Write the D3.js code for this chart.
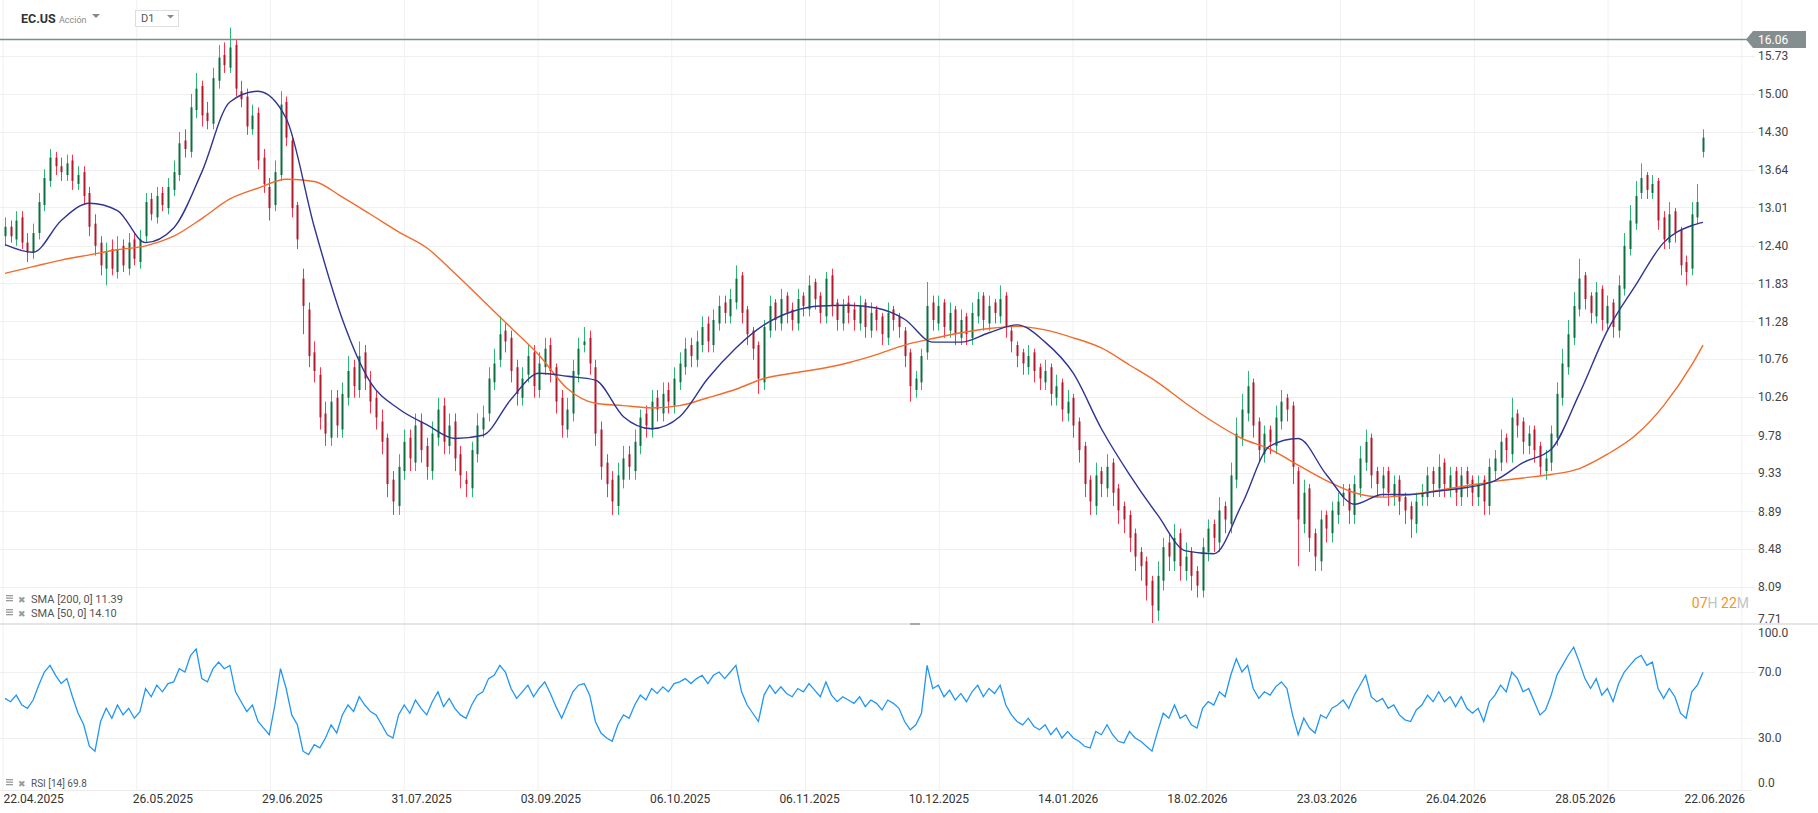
<!DOCTYPE html>
<html><head><meta charset="utf-8">
<script src="https://cdn.jsdelivr.net/npm/d3@7"></script>
<style>
html,body{margin:0;padding:0;background:#fff;}
svg{display:block;font-family:Roboto,"Noto Sans",sans-serif;}
</style></head><body>
<svg id="chart" width="1818" height="813"></svg>
<script>
const opens=[12.55,12.70,12.50,12.85,12.45,12.30,12.60,13.05,13.45,13.85,
13.70,13.55,13.80,13.40,13.60,13.25,12.75,12.45,12.05,12.35,
12.00,12.40,12.05,12.50,12.15,12.55,13.15,12.85,13.25,13.00,
13.30,13.55,14.15,13.95,14.70,15.15,14.65,14.45,15.25,15.75,
15.50,15.95,15.05,14.95,14.35,14.65,13.85,13.35,13.05,13.55,
14.85,14.15,13.05,11.90,11.45,10.85,10.55,10.05,9.75,10.25,
9.85,10.25,10.65,10.35,10.85,10.45,10.25,9.95,9.75,9.25,
8.95,9.35,9.75,9.45,9.95,9.65,9.35,9.75,10.15,9.65,
9.95,9.55,9.25,9.15,9.55,9.85,10.05,10.45,10.75,11.15,
11.05,10.65,10.25,10.55,10.85,10.35,10.65,10.95,10.65,10.25,
9.85,10.05,10.55,10.95,11.05,10.65,9.85,9.45,9.25,8.95,
9.25,9.55,9.35,9.65,10.05,9.85,10.25,10.05,10.35,10.15,
10.45,10.65,10.95,10.75,10.95,11.25,10.95,11.25,11.55,11.35,
11.55,11.95,11.45,11.15,10.95,10.45,11.15,11.55,11.25,11.65,
11.45,11.25,11.65,11.45,11.85,11.65,11.35,11.95,11.55,11.25,
11.55,11.45,11.25,11.55,11.15,11.45,11.35,11.05,11.45,11.35,
11.15,10.85,10.35,10.45,10.85,11.55,11.25,11.55,11.15,11.45,
11.05,11.35,11.05,11.35,11.65,11.25,11.55,11.35,11.65,11.15,
10.95,10.85,10.65,10.85,10.65,10.45,10.65,10.25,10.45,10.05,
10.25,9.95,9.65,9.25,8.95,9.35,9.15,9.45,9.15,8.95,
8.85,8.65,8.45,8.35,8.15,7.85,8.15,8.55,8.35,8.65,
8.25,8.45,8.25,8.05,8.45,8.75,8.55,8.95,8.75,9.25,
9.75,10.05,10.45,9.95,9.55,9.85,9.65,9.95,10.25,10.15,
9.35,8.75,9.15,8.65,8.35,8.85,8.65,8.85,9.05,9.15,
8.85,9.15,9.45,9.75,9.35,9.15,9.35,9.05,9.25,9.05,
8.95,8.75,9.05,9.05,9.35,9.15,9.45,9.15,9.35,9.05,
9.35,9.25,9.05,9.25,8.95,9.35,9.45,9.75,9.55,10.05,
9.95,9.65,9.85,9.65,9.35,9.45,9.75,10.25,10.65,11.05,
11.45,11.95,11.65,11.35,11.75,11.25,11.55,11.15,11.75,12.35,
12.75,13.25,13.55,13.25,13.45,12.85,12.45,12.95,12.65,12.15,
12.05,12.85,13.95];
const highs=[12.85,12.80,12.95,12.95,12.60,12.75,13.25,13.65,14.00,13.95,
13.85,13.90,13.90,13.70,13.70,13.35,12.90,12.55,12.45,12.50,
12.55,12.50,12.60,12.60,12.65,13.25,13.25,13.35,13.35,13.50,
13.80,14.30,14.35,15.00,15.40,15.25,14.85,15.50,15.95,16.00,
16.30,16.05,15.25,15.10,14.80,14.75,14.00,13.50,13.80,15.05,
14.95,14.25,13.10,12.05,11.55,11.00,10.65,10.20,10.35,10.35,
10.45,10.80,10.75,11.00,10.95,10.60,10.35,10.10,9.80,9.35,
9.55,9.85,9.85,10.05,10.05,9.75,9.95,10.25,10.25,10.05,
10.05,9.65,9.35,9.70,10.05,10.15,10.65,10.90,11.35,11.25,
11.15,10.75,10.65,10.95,10.95,10.85,11.05,11.05,10.70,10.35,
10.25,10.75,11.05,11.20,11.15,10.75,9.95,9.55,9.35,9.45,
9.65,9.65,9.85,10.10,10.15,10.35,10.35,10.45,10.45,10.65,
10.85,11.05,11.05,11.15,11.35,11.35,11.45,11.65,11.65,11.75,
12.10,12.00,11.50,11.20,11.00,11.30,11.65,11.60,11.75,11.70,
11.55,11.75,11.70,11.95,11.90,11.70,12.00,12.05,11.60,11.60,
11.65,11.55,11.65,11.60,11.55,11.50,11.40,11.55,11.50,11.40,
11.20,10.90,10.60,10.90,11.85,11.65,11.65,11.60,11.55,11.50,
11.45,11.40,11.55,11.70,11.70,11.65,11.60,11.80,11.70,11.20,
11.00,10.90,10.95,10.90,10.70,10.75,10.70,10.55,10.50,10.35,
10.30,10.00,9.70,9.30,9.45,9.40,9.55,9.50,9.20,9.00,
8.90,8.70,8.50,8.40,8.20,8.35,8.60,8.65,8.75,8.70,
8.55,8.50,8.30,8.60,8.80,8.80,9.05,9.00,9.45,10.00,
10.30,10.60,10.50,10.00,9.90,9.90,10.15,10.35,10.30,10.20,
9.40,9.25,9.20,8.70,8.90,8.90,9.00,9.10,9.20,9.20,
9.30,9.65,9.85,9.80,9.40,9.40,9.40,9.30,9.30,9.10,
9.00,9.10,9.20,9.40,9.40,9.55,9.50,9.40,9.40,9.40,
9.40,9.30,9.30,9.30,9.50,9.60,9.85,9.80,10.25,10.10,
10.00,9.90,9.90,9.70,9.60,9.90,10.45,10.90,11.30,11.70,
12.20,12.00,11.70,11.85,11.80,11.65,11.60,11.95,12.60,13.05,
13.45,13.75,13.60,13.55,13.50,12.95,13.10,13.00,12.70,12.25,
13.10,13.40,14.35];
const lows=[12.40,12.45,12.40,12.35,12.15,12.20,12.50,12.95,13.35,13.55,
13.45,13.45,13.30,13.30,13.05,12.55,12.25,11.95,11.80,11.95,
11.90,12.00,11.95,12.10,12.05,12.45,12.80,12.75,12.95,12.90,
13.20,13.45,13.85,13.85,14.55,14.40,14.35,14.35,15.10,15.40,
15.40,14.95,14.75,14.25,14.25,13.65,13.25,12.80,12.95,13.45,
14.05,12.85,12.35,11.10,10.65,10.45,9.85,9.65,9.65,9.75,
9.75,10.15,10.25,10.25,10.35,10.05,9.85,9.55,9.05,8.85,
8.85,9.25,9.35,9.35,9.45,9.25,9.25,9.65,9.55,9.55,
9.35,9.15,9.05,9.05,9.45,9.75,9.95,10.35,10.65,10.85,
10.45,10.15,10.15,10.45,10.25,10.25,10.55,10.45,10.05,9.75,
9.75,9.95,10.45,10.85,10.55,9.65,9.25,9.05,8.85,8.85,
9.15,9.25,9.25,9.55,9.75,9.75,9.95,9.95,10.05,10.05,
10.35,10.55,10.65,10.65,10.85,10.85,10.85,11.15,11.25,11.25,
11.45,11.25,10.95,10.75,10.30,10.35,11.05,11.15,11.15,11.25,
11.15,11.15,11.35,11.35,11.45,11.25,11.25,11.35,11.15,11.15,
11.25,11.15,11.15,11.05,11.05,11.15,10.95,10.95,11.15,11.05,
10.65,10.20,10.25,10.35,10.75,11.15,11.15,11.05,11.05,10.95,
10.95,10.95,10.95,11.25,11.15,11.15,11.25,11.25,11.05,10.85,
10.65,10.55,10.55,10.45,10.35,10.35,10.15,10.15,9.95,9.95,
9.75,9.45,9.05,8.85,8.85,9.05,9.05,8.95,8.75,8.65,
8.45,8.25,8.15,7.95,7.72,7.75,8.05,8.25,8.25,8.15,
8.15,8.05,7.98,7.98,8.35,8.45,8.45,8.65,8.65,9.15,
9.65,9.95,9.75,9.45,9.45,9.55,9.55,9.85,9.95,9.20,
8.30,8.65,8.45,8.25,8.25,8.55,8.55,8.75,8.95,8.75,
8.75,9.05,9.35,9.15,9.05,9.05,8.95,8.95,8.85,8.75,
8.60,8.65,8.95,8.95,9.05,9.05,9.05,9.05,8.95,8.95,
9.05,8.95,8.95,8.85,8.85,9.25,9.35,9.45,9.45,9.75,
9.55,9.55,9.45,9.30,9.25,9.35,9.65,10.15,10.55,10.95,
11.35,11.45,11.25,11.25,11.15,11.15,11.05,11.05,11.65,12.25,
12.65,13.15,13.15,13.15,12.65,12.35,12.35,12.45,11.95,11.80,
11.95,12.75,13.85];
const closes=[12.70,12.55,12.80,12.45,12.30,12.60,13.10,13.50,13.85,13.70,
13.60,13.75,13.45,13.55,13.20,12.70,12.40,12.10,12.30,12.05,
12.35,12.10,12.45,12.20,12.50,13.10,12.90,13.20,13.05,13.35,
13.60,14.10,14.00,14.75,15.10,14.60,14.50,15.30,15.70,15.55,
15.90,15.10,14.90,14.40,14.60,13.80,13.40,13.00,13.60,14.80,
14.20,13.00,12.50,11.50,10.80,10.60,10.00,9.80,10.20,9.90,
10.30,10.60,10.40,10.80,10.50,10.20,10.00,9.70,9.20,9.00,
9.40,9.70,9.50,9.90,9.60,9.40,9.80,10.10,9.70,9.90,
9.50,9.30,9.20,9.60,9.90,10.00,10.50,10.70,11.10,11.00,
10.60,10.30,10.50,10.80,10.40,10.70,10.90,10.60,10.20,9.90,
10.10,10.60,10.90,11.00,10.70,9.80,9.40,9.20,9.00,9.30,
9.50,9.40,9.70,10.00,9.90,10.20,10.10,10.30,10.20,10.50,
10.70,10.90,10.80,11.00,11.20,11.00,11.30,11.50,11.40,11.60,
11.90,11.40,11.10,10.90,10.50,11.20,11.50,11.30,11.60,11.40,
11.30,11.60,11.50,11.80,11.60,11.40,11.90,11.50,11.30,11.50,
11.40,11.30,11.50,11.20,11.40,11.30,11.10,11.40,11.30,11.20,
10.80,10.40,10.50,10.80,11.50,11.30,11.50,11.20,11.40,11.10,
11.30,11.10,11.40,11.60,11.30,11.50,11.40,11.60,11.20,11.00,
10.80,10.70,10.80,10.60,10.50,10.60,10.30,10.40,10.10,10.20,
9.90,9.60,9.20,9.00,9.30,9.20,9.40,9.10,8.90,8.80,
8.60,8.40,8.30,8.10,7.90,8.20,8.50,8.40,8.60,8.30,
8.40,8.20,8.10,8.50,8.70,8.60,8.90,8.80,9.30,9.80,
10.10,10.40,9.90,9.60,9.80,9.70,10.00,10.20,10.10,9.40,
8.80,9.10,8.60,8.40,8.80,8.70,8.90,9.00,9.10,8.90,
9.20,9.50,9.70,9.30,9.20,9.30,9.10,9.20,9.00,8.90,
8.80,9.00,9.10,9.30,9.20,9.40,9.20,9.30,9.10,9.30,
9.20,9.10,9.20,9.00,9.40,9.50,9.70,9.60,10.00,9.90,
9.70,9.80,9.60,9.40,9.50,9.80,10.30,10.70,11.10,11.50,
11.90,11.60,11.40,11.70,11.30,11.50,11.20,11.80,12.40,12.80,
13.20,13.50,13.30,13.40,12.80,12.50,12.90,12.60,12.10,12.00,
12.90,13.10,14.20];
const rsi=[54,52,56,50,48,53,62,70,74,68,
63,66,55,45,38,25,22,40,48,42,
50,44,48,42,46,60,55,62,58,63,
64,72,70,80,84,66,64,72,76,72,
74,58,52,46,50,40,36,32,50,72,
60,44,38,22,20,26,24,30,38,33,
44,50,46,55,50,46,44,38,32,30,
44,50,45,53,48,44,52,58,49,54,
48,44,42,50,56,58,66,68,74,70,
60,54,58,62,55,60,64,57,49,42,
50,58,62,63,56,40,33,30,28,38,
44,42,50,56,53,60,57,61,58,63,
64,66,63,66,68,63,68,70,66,70,
74,58,50,45,40,56,62,57,61,57,
55,60,58,63,59,55,64,56,52,55,
53,51,55,49,53,51,47,53,51,48,
40,35,38,45,74,60,62,55,59,53,
57,52,58,62,55,60,57,62,50,44,
40,38,42,37,35,38,32,36,30,34,
30,28,25,24,34,32,38,32,28,27,
34,30,28,25,22,34,45,42,50,42,
44,38,36,48,52,50,58,55,68,78,
70,74,60,54,58,56,61,64,60,44,
32,42,36,33,44,42,48,50,53,48,
56,62,68,55,52,54,48,50,44,41,
40,47,50,56,52,58,52,55,49,55,
48,45,48,40,52,56,62,58,70,66,
58,60,52,44,47,56,68,74,80,85,
76,66,60,66,56,60,52,63,70,74,
78,80,74,76,60,54,60,55,45,42,
58,62,69.8];
const smaIdx=[0,5,10,15,20,25,30,35,40,45,50,55,60,65,70,75,80,85,90,95,100,105,110,115,120,125,130,135,140,145,150,155,160,165,170,175,180,185,190,195,200,205,210,215,220,225,230,235,240,245,250,255,260,265,270,275,280,285,290,295,300,302];
const sma50=[12.42,12.30,12.80,13.08,12.96,12.45,12.68,13.60,14.85,15.05,14.55,12.70,11.31,10.45,10.11,9.91,9.74,9.78,10.23,10.57,10.53,10.48,10.01,9.86,10.01,10.50,10.91,11.23,11.42,11.50,11.51,11.47,11.31,10.99,10.99,11.12,11.23,10.99,10.57,9.86,9.31,8.85,8.46,8.43,8.97,9.65,9.74,9.31,8.97,9.08,9.08,9.12,9.16,9.24,9.45,9.61,10.30,11.15,11.80,12.45,12.72,12.77];
const sma200=[11.98,12.08,12.18,12.26,12.34,12.40,12.55,12.83,13.15,13.33,13.48,13.44,13.18,12.90,12.62,12.37,11.98,11.58,11.19,10.81,10.37,10.18,10.15,10.12,10.15,10.25,10.36,10.50,10.57,10.63,10.71,10.82,10.95,11.04,11.12,11.18,11.21,11.16,11.05,10.91,10.68,10.45,10.18,9.94,9.74,9.61,9.42,9.24,9.10,9.05,9.08,9.13,9.18,9.23,9.27,9.31,9.38,9.55,9.78,10.15,10.68,10.95];
const priceTicks=[15.73,15.00,14.30,13.64,13.01,12.40,11.83,11.28,10.76,10.26,9.78,9.33,8.89,8.48,8.09,7.71];
const rsiTicks=[100,70,30,0];
const dateIdx=[5,28,51,74,97,120,143,166,189,212,235,258,281,304];
const dateLabels=["22.04.2025","26.05.2025","29.06.2025","31.07.2025","03.09.2025","06.10.2025","06.11.2025","10.12.2025","14.01.2026","18.02.2026","23.03.2026","26.04.2026","28.05.2026","22.06.2026"];
const lastPrice=16.06;

const svg=d3.select("#chart");
svg.append("rect").attr("width",1818).attr("height",813).attr("fill","#fff");
const x=d3.scaleLinear().domain([0,302]).range([5,1703]);
const y=d3.scaleLog().domain([7.71,15.73]).range([625,56]);
const yR=d3.scaleLinear().domain([0,100]).range([787.5,622.5]);
const defs=svg.append("defs");
defs.append("clipPath").attr("id","cp").append("rect").attr("x",0).attr("y",0).attr("width",1742).attr("height",623);
defs.append("clipPath").attr("id","cpa").append("rect").attr("x",1742).attr("y",0).attr("width",76).attr("height",623);
defs.append("clipPath").attr("id","cpr").append("rect").attr("x",0).attr("y",625).attr("width",1742).attr("height",165);

// vertical grid
const vg=svg.append("g");
for(let k=0;k<=13;k++){const gx=3+133.75*k;vg.append("line").attr("x1",gx).attr("x2",gx).attr("y1",0).attr("y2",790).attr("stroke","#f0f0f0").attr("stroke-width",1);}
// horizontal grid price
svg.append("g").selectAll("line").data(priceTicks.filter(t=>y(t)<623)).join("line")
 .attr("x1",0).attr("x2",1755).attr("y1",d=>Math.round(y(d))+0.5).attr("y2",d=>Math.round(y(d))+0.5).attr("stroke","#efefef");
svg.append("g").selectAll("line").data([70,30]).join("line")
 .attr("x1",0).attr("x2",1755).attr("y1",d=>Math.round(yR(d))+0.5).attr("y2",d=>Math.round(yR(d))+0.5).attr("stroke","#efefef");
// bottom axis line
svg.append("line").attr("x1",0).attr("x2",1752).attr("y1",790.5).attr("y2",790.5).attr("stroke","#ececec");

// last price line
svg.append("line").attr("x1",0).attr("x2",1748).attr("y1",y(lastPrice)).attr("y2",y(lastPrice)).attr("stroke","#7f8a8b").attr("stroke-width",1.5);

// candles
const cg=svg.append("g").attr("clip-path","url(#cp)");
const idx=d3.range(closes.length);
cg.selectAll("line.w").data(idx).join("line").attr("class","w")
 .attr("x1",i=>Math.round(x(i))+0.5).attr("x2",i=>Math.round(x(i))+0.5)
 .attr("y1",i=>y(highs[i])).attr("y2",i=>y(lows[i]))
 .attr("stroke",i=>closes[i]>=opens[i]?"#2bb673":"#ff3049").attr("stroke-width",1);
cg.selectAll("rect.b").data(idx).join("rect").attr("class","b")
 .attr("x",i=>Math.round(x(i))-0.5).attr("width",2)
 .attr("y",i=>y(Math.max(opens[i],closes[i])))
 .attr("height",i=>Math.max(1,y(Math.min(opens[i],closes[i]))-y(Math.max(opens[i],closes[i]))))
 .attr("fill",i=>closes[i]>=opens[i]?"#0f6e40":"#b01a2c");

// SMAs
const smaLine=vals=>d3.line().x((d,i)=>x(smaIdx[i])).y(d=>y(d)).curve(d3.curveMonotoneX)(vals);
cg.append("path").attr("d",smaLine(sma200)).attr("fill","none").attr("stroke","#f26b2a").attr("stroke-width",1.4);
cg.append("path").attr("d",smaLine(sma50)).attr("fill","none").attr("stroke","#2f3590").attr("stroke-width",1.4);

// price axis
const ay=svg.append("g").attr("clip-path","url(#cpa)").append("g").attr("transform","translate(1758,0)")
 .call(d3.axisRight(y).tickValues(priceTicks).tickFormat(d3.format(".2f")).tickSize(0).tickPadding(0));
ay.select(".domain").remove();
ay.selectAll("text").attr("fill","#444").style("font-size","12px").style("font-family","Roboto");
ay.selectAll(".tick").filter(d=>d===7.71).select("text").attr("y",-6);

// last price badge
const by=y(lastPrice);
svg.append("path").attr("d",`M1746,${by} L1753,${by-8.5} L1806,${by-8.5} L1806,${by+8.5} L1753,${by+8.5} Z`).attr("fill","#858e8f");
svg.append("text").attr("x",1758).attr("y",by).attr("dy","0.35em").attr("fill","#fff").style("font-size","12px").text(d3.format(".2f")(lastPrice));

// timer
const tt=svg.append("text").attr("x",1749).attr("y",608).attr("text-anchor","end").style("font-size","14px");
tt.append("tspan").attr("fill","#f7941d").text("07");
tt.append("tspan").attr("fill","#c4c4c4").text("H ");
tt.append("tspan").attr("fill","#f7941d").text("22");
tt.append("tspan").attr("fill","#c4c4c4").text("M");

// separator
svg.append("line").attr("x1",0).attr("x2",1818).attr("y1",624).attr("y2",624).attr("stroke","#dcdcdc").attr("stroke-width",1.5);
svg.append("rect").attr("x",910).attr("y",623).attr("width",10).attr("height",2).attr("fill","#a8a8a8");

// RSI
svg.append("g").attr("clip-path","url(#cpr)").append("path")
 .attr("d",d3.line().x((d,i)=>x(i)).y(d=>yR(d))(rsi))
 .attr("fill","none").attr("stroke","#2196f3").attr("stroke-width",1.3);
svg.append("g").selectAll("text").data(rsiTicks).join("text")
 .attr("x",1758).attr("y",d=>Math.max(633,Math.min(783,yR(d)))).attr("dy","0.35em")
 .attr("fill","#444").style("font-size","12px").text(d=>d3.format(".1f")(d));

// date axis
const ax=svg.append("g").attr("transform","translate(0,794)")
 .call(d3.axisBottom(x).tickValues(dateIdx).tickFormat((d,i)=>dateLabels[i]).tickSize(0).tickPadding(0));
ax.select(".domain").remove();
ax.selectAll("text").attr("fill","#333").style("font-size","12px").style("font-family","Roboto");

// legends
function legend(yy,label,fs){
  const g=svg.append("g");
  [0,2.5,5].forEach(o=>g.append("rect").attr("x",6).attr("y",yy-8+o).attr("width",7).attr("height",1.3).attr("fill","#9a9a9a"));
  g.append("text").attr("x",18).attr("y",yy).attr("fill","#9a9a9a").style("font-size","9px").text("✖");
  g.append("text").attr("x",31).attr("y",yy).attr("fill","#555").style("font-size",fs).text(label);
}
legend(603,"SMA [200, 0] 11.39","11px");
legend(617,"SMA [50, 0] 14.10","11px");
legend(787,"RSI [14] 69.8","10px");

// header
svg.append("text").attr("x",21).attr("y",23).attr("fill","#333").style("font-size","12.5px").style("font-weight","bold").text("EC.US");
svg.append("text").attr("x",59).attr("y",23).attr("fill","#888").style("font-size","9px").text("Acción");
svg.append("path").attr("d","M92,14 L100,14 L96,18 Z").attr("fill","#888");
svg.append("rect").attr("x",135.5).attr("y",10.5).attr("width",43).attr("height",16).attr("fill","#fff").attr("stroke","#ddd");
svg.append("text").attr("x",141).attr("y",22).attr("fill","#555").style("font-size","11px").text("D1");
svg.append("path").attr("d","M167,15 L174,15 L170.5,18.5 Z").attr("fill","#888");
</script>
</body></html>
